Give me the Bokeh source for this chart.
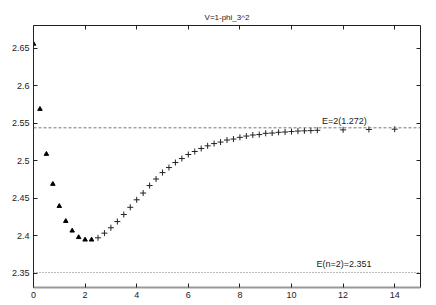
from bokeh.plotting import figure
from bokeh.models import LinearAxis, Range1d, FixedTicker, Span, Title, CustomJSTickFormatter
from bokeh.core.properties import value
from bokeh.embed import file_html
from bokeh.resources import INLINE

# Data
tri_x = [0.0, 0.25, 0.5, 0.75, 1.0, 1.25, 1.5, 1.75, 2.0, 2.25]
tri_y = [2.656, 2.569, 2.509, 2.469, 2.4395, 2.4195, 2.4067, 2.398, 2.3947, 2.3947]

plus_x = [2.5, 2.75, 3.0, 3.25, 3.5, 3.75, 4.0, 4.25, 4.5, 4.75, 5.0, 5.25, 5.5, 5.75,
          6.0, 6.25, 6.5, 6.75, 7.0, 7.25, 7.5, 7.75, 8.0, 8.25, 8.5, 8.75, 9.0, 9.25,
          9.5, 9.75, 10.0, 10.25, 10.5, 10.75, 11.0, 12.0, 13.0, 14.0]
plus_y = [2.3973, 2.4035, 2.4107, 2.419, 2.4284, 2.438, 2.448, 2.457, 2.467, 2.4757,
          2.4843, 2.491, 2.4977, 2.503, 2.5084, 2.5124, 2.5164, 2.520, 2.523, 2.525,
          2.5277, 2.529, 2.5313, 2.533, 2.5344, 2.535, 2.5367, 2.537, 2.538, 2.5384,
          2.539, 2.5397, 2.540, 2.5403, 2.5407, 2.5413, 2.5418, 2.5422]

e2_level = 2.544
e2_label = "E=2(1.272)"
en2_level = 2.351
en2_label = "E(n=2)=2.351"

x_ticks = [0, 2, 4, 6, 8, 10, 12, 14]
y_ticks = [2.35, 2.4, 2.45, 2.5, 2.55, 2.6, 2.65]
title_text = "V=1-phi_3^2"

FONT = "Liberation Sans"

p = figure(width=435, height=303, output_backend="svg", toolbar_location=None,
           x_range=Range1d(0, 15), y_range=Range1d(2.331, 2.6805),
           x_axis_location=None, y_axis_location=None,
           min_border_left=33, min_border_right=15, min_border_top=25, min_border_bottom=16)
p.title = Title(text=title_text, align="center", text_font=FONT, text_font_size="8px",
                text_font_style="normal", text_color="#222222", standoff=8, offset=0)
p.grid.visible = False
p.outline_line_color = None
p.background_fill_color = "white"
p.border_fill_color = "white"


def mk_axis(ticks, show_labels, line_color="#222222", line_width=1):
    ax = LinearAxis(ticker=FixedTicker(ticks=ticks))
    ax.major_tick_in = 4
    ax.major_tick_out = 0
    ax.minor_tick_in = 0
    ax.minor_tick_out = 0
    ax.axis_line_color = line_color
    ax.axis_line_width = line_width
    ax.major_tick_line_color = "#222222"
    ax.major_label_text_font = FONT
    ax.major_label_text_color = "#222222"
    ax.major_label_text_font_size = "9px"
    if show_labels:
        ax.major_label_standoff = 4
    else:
        ax.formatter = CustomJSTickFormatter(code="return ''")
        ax.major_label_standoff = 0
    return ax

p.add_layout(mk_axis(x_ticks, True, "#999999", 2), "below")
p.add_layout(mk_axis(y_ticks, True), "left")
p.add_layout(mk_axis(x_ticks, False), "above")
p.add_layout(mk_axis(y_ticks, False), "right")

p.add_layout(Span(location=e2_level, dimension="width", line_color="#777777",
                  line_width=1, line_dash="3 2"))
p.add_layout(Span(location=en2_level, dimension="width", line_color="#777777",
                  line_width=1, line_dash="1 2"))

p.scatter(tri_x, tri_y, marker="triangle", size=4.5, fill_color="black", line_color="black")
p.scatter(plus_x, plus_y, marker="cross", size=6, line_color="#222222", line_width=1)

p.text(x=[11.18], y=[e2_level + 0.003], text=[e2_label], text_font=value(FONT),
       text_font_size="9px", text_color="#222222", text_baseline="bottom", text_align="left")
p.text(x=[10.97], y=[en2_level + 0.0045], text=[en2_label], text_font=value(FONT),
       text_font_size="9px", text_color="#222222", text_baseline="bottom", text_align="left")

open("out.html", "w").write(file_html(p, INLINE))
